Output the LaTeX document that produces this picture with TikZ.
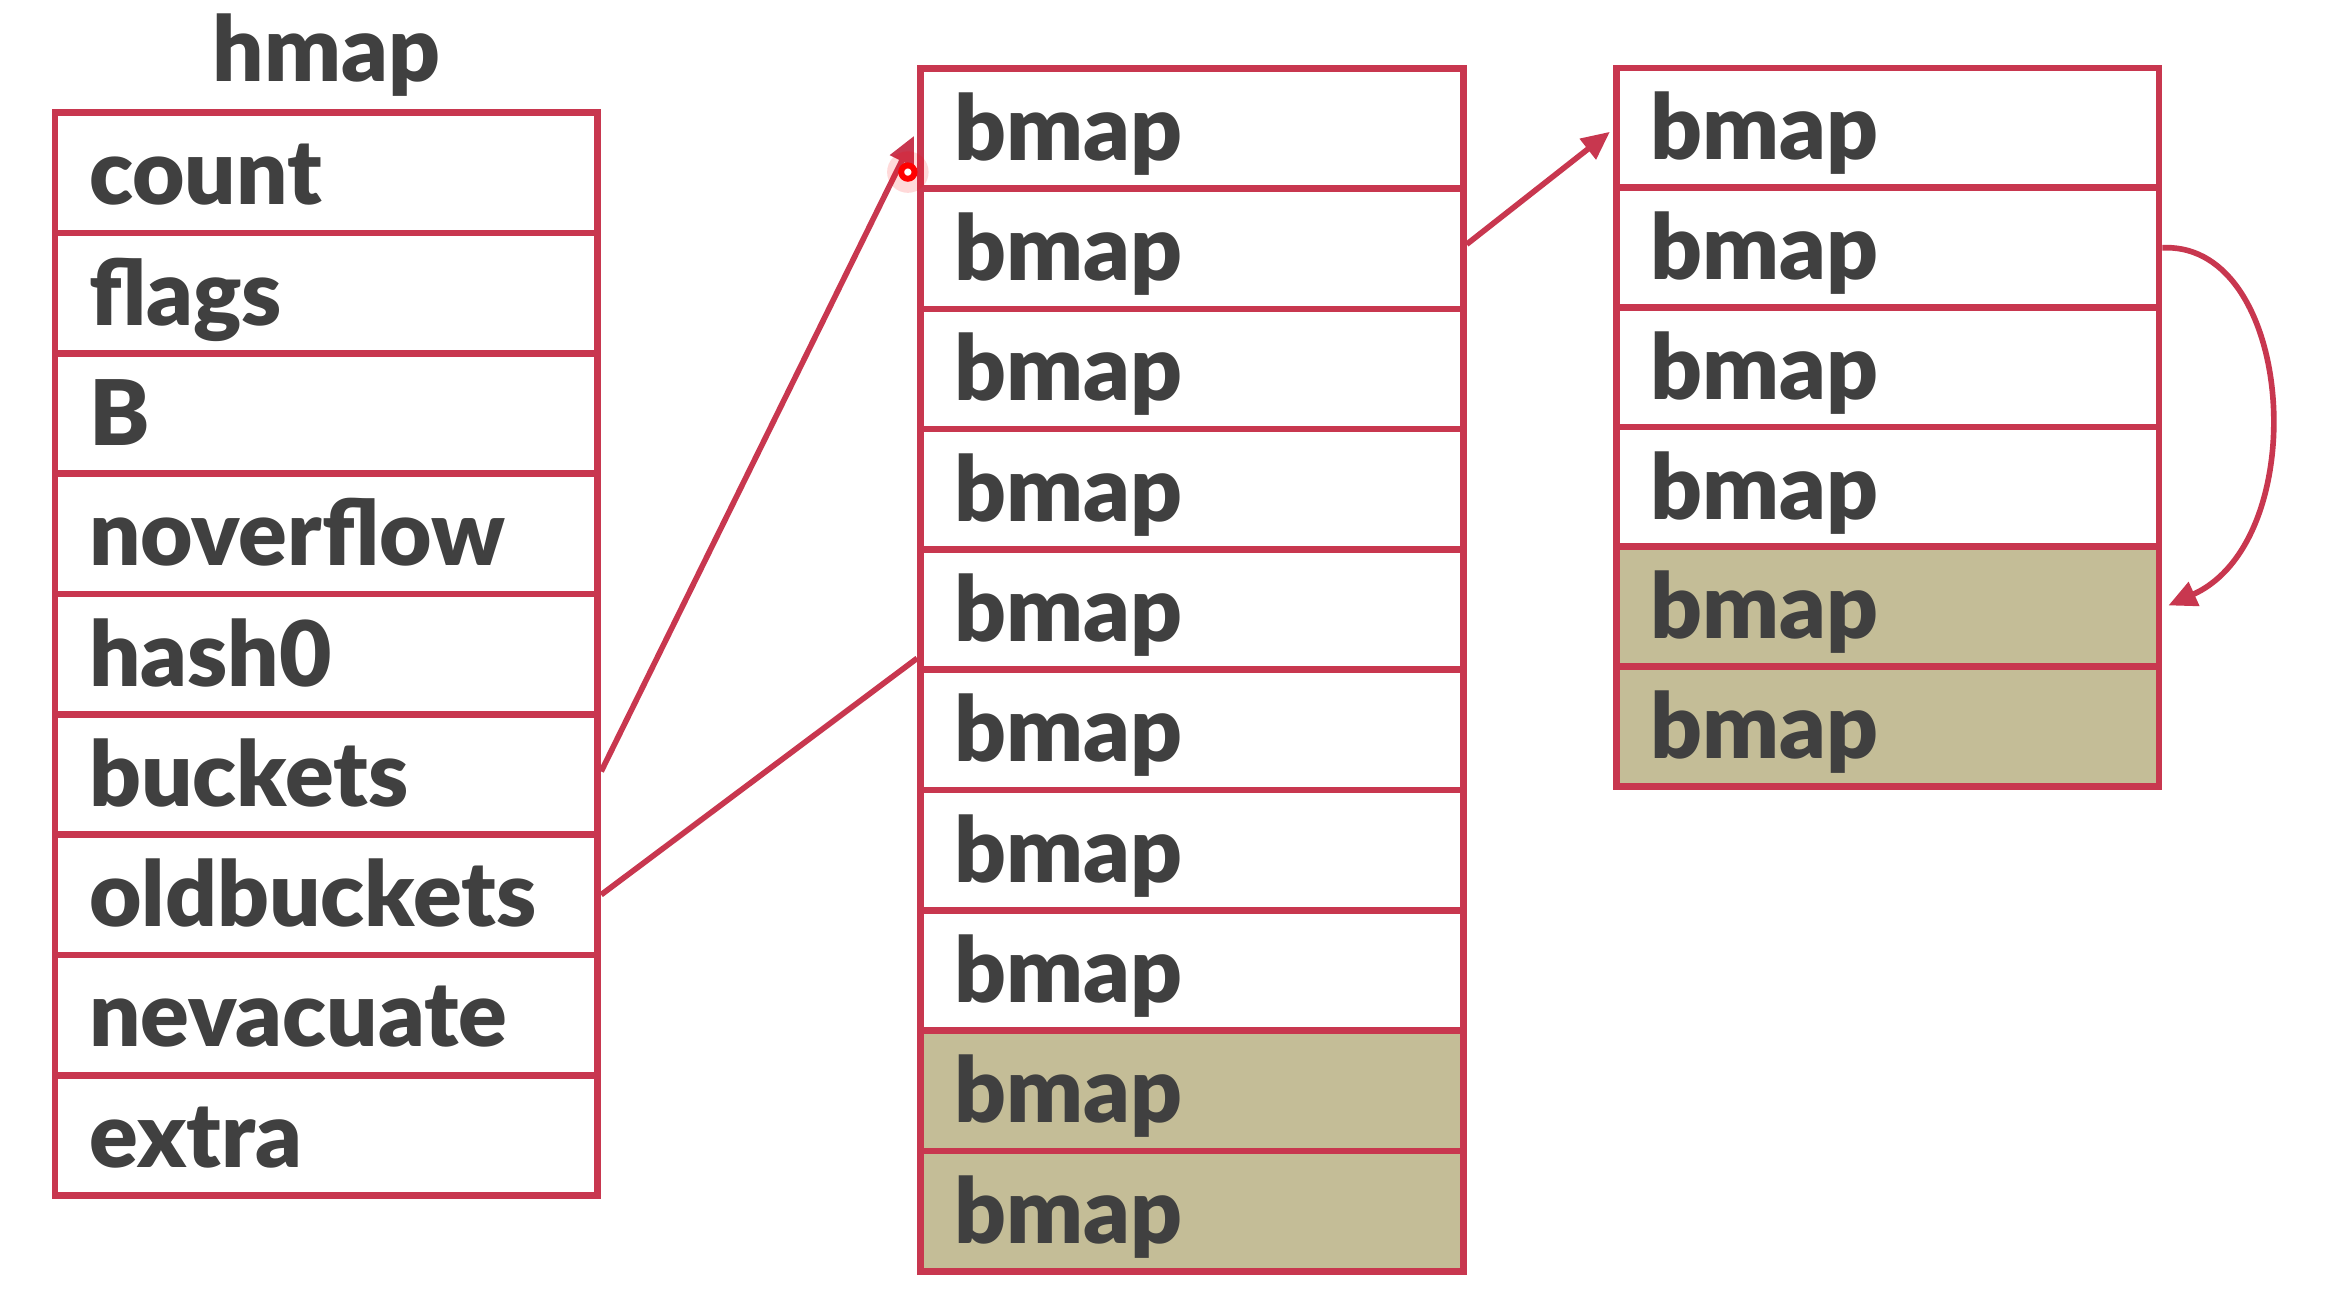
\documentclass[tikz,border=0pt]{standalone}
\usepackage{fontspec}
\setmainfont{Lato}[BoldFont={Lato Black}]
\usetikzlibrary{arrows.meta,calc}
\definecolor{cellred}{HTML}{C8374F}
\definecolor{celltan}{HTML}{C4BD97}
\definecolor{txt}{HTML}{404040}
\begin{document}
\begin{tikzpicture}[x=1pt,y=-1pt,
  cell/.style={draw=cellred, line width=4.5pt, fill=white, line join=miter,
    minimum height=81.1pt, text width=320pt, inner xsep=23pt, inner ysep=0pt,
    align=left, text height=50pt, text depth=7pt,
    font=\fontsize{61}{65}\selectfont\bfseries, text=txt},
  oldcell/.style={cell, fill=celltan},
  link/.style={draw=cellred, line width=3.8pt},
  tip/.style={-{Triangle[length=19pt,width=17pt]}}]
\useasboundingbox (0,0) rectangle (1568,883);
\fill[white] (0,0) rectangle (1568,883);
\node[font=\fontsize{61}{65}\selectfont\bfseries, text=txt, anchor=base, inner sep=0pt] (title) at (220,55) {hmap};
\foreach \t [count=\i] in {count,flags,B,noverflow,hash0,buckets,oldbuckets,nevacuate,extra}
  \node[cell] (l\i) at (220,{76+81.1*(\i-0.5)}) {\t};
\foreach \i in {1,...,8}
  \node[cell] (m\i) at (803.5,{46+81.1*(\i-0.5)}) {bmap};
\foreach \i in {9,10}
  \node[oldcell] (m\i) at (803.5,{46+81.1*(\i-0.5)}) {bmap};
\foreach \i in {1,...,4}
  \node[cell] (r\i) at (1272.5,{46+80.7*(\i-0.5)}) {bmap};
\foreach \i in {5,6}
  \node[oldcell] (r\i) at (1272.5,{46+80.7*(\i-0.5)}) {bmap};
% connectors
\draw[link,tip] ($(l6.east)+(0,-2)$) -- ($(m1.west)+(-2,5)$);
\draw[link] (l7.east) -- ($(m5.south west)+(0,-10)$);
\draw[link,tip] ($(m2.east)+(0,-3)$) -- ($(r1.west)+(-2,2.5)$);
\draw[link,tip] (r2.east) -- ++(6,0) .. controls (1548,172) and (1558,365) .. ($(r5.east)+(4,-1)$);
% pointer dot
\fill[red, opacity=0.15] (612,116) circle (14);
\node[circle, draw=red, line width=4pt, fill=white, minimum size=9pt, inner sep=0pt] (cursor) at (612,116) {};
\end{tikzpicture}
\end{document}
